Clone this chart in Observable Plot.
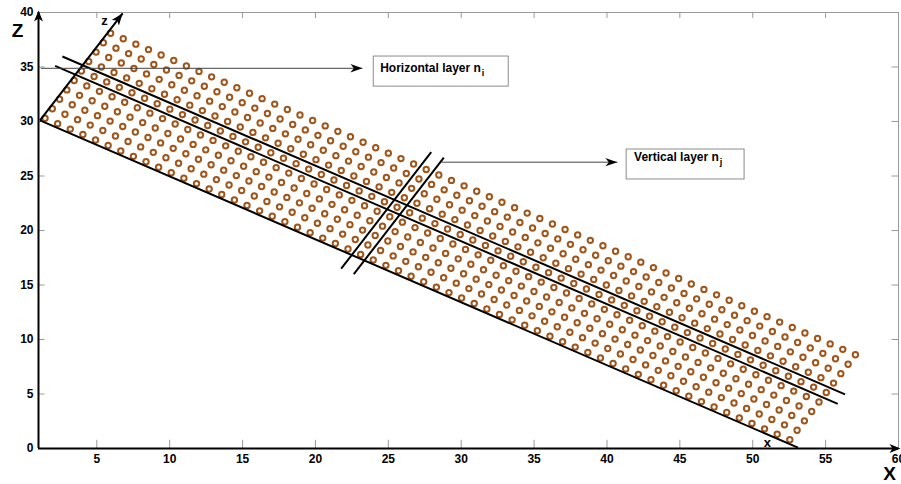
<!DOCTYPE html>
<html>
<head>
<meta charset="utf-8">
<script src="https://cdn.jsdelivr.net/npm/d3@7"></script>
<script src="https://cdn.jsdelivr.net/npm/@observablehq/plot@0.6"></script>
<style>
  html, body { margin: 0; padding: 0; background: #fff; overflow: hidden; }
</style>
</head>
<body>
<div id="chart"></div>
<script>
// ---- axis ticks ----
const xTicks = [5, 10, 15, 20, 25, 30, 35, 40, 45, 50, 55, 60];
const yTicks = [0, 5, 10, 15, 20, 25, 30, 35, 40];

// ---- mesh: vertical layers j (along local x) and horizontal layers i (along local z) ----
const columnsJ = [1, 2, 3, 4, 5, 6, 7, 8, 9, 10, 11, 12, 13, 14, 15, 16, 17, 18, 19, 20,
  21, 22, 23, 24, 25, 26, 27, 28, 29, 30, 31, 32, 33, 34, 35, 36, 37, 38, 39, 40,
  41, 42, 43, 44, 45, 46, 47, 48, 49, 50, 51, 52, 53, 54, 55, 56, 57, 58, 59, 60];
const rowsI = [1, 2, 3, 4, 5, 6, 7, 8, 9, 10];
const meshOrigin = [0.765, 30.12];   // (X, Z) of mesh corner
const meshAngleDeg = 30;             // local x axis dips 30 degrees
const highlightedRowI = 6;           // horizontal layer n_i
const highlightedColumnJ = 26;       // vertical layer n_j
const rowLineSpanU = [-1.3, 60.7];   // extent of the n_i boundary lines (local x)
const columnLineSpanW = [-1.3, 11.05]; // extent of the n_j boundary lines (local z)
const localAxisOrigin = [0.3, 0.15]; // local (u, w)
const localXAxisLength = 60.05;
const localZAxisLength = 11.35;

// ---- annotations (data coordinates) ----
const annotationLabels = ["Horizontal layer n", "Vertical layer n"];
const annotationSubs = ["i", "j"];
const annotationTextXZ = [[24.44, 34.87], [41.86, 26.71]];
const annotationBoxX = [[24.0, 33.26], [41.35, 49.44]];
const annotationBoxZ = [[33.2, 35.96], [24.68, 27.43]];
const annotationArrowFrom = [[1.16, 34.88], [28.6, 26.27]];
const annotationArrowTo = [[23.22, 34.88], [40.71, 26.27]];
const localAxisLabels = ["z", "x"];
const localAxisLabelXZ = [[5.53, 39.22], [51.01, 0.5]];

// ---- geometry helpers ----
const W = 901, H = 484, ML = 38, MR = 3, MT = 12, MB = 36;
const xDomain = [1, 60], yDomain = [0, 40];
const ang = meshAngleDeg * Math.PI / 180;
const toXZ = ([u, w]) => [
  meshOrigin[0] + u * Math.cos(ang) + w * Math.sin(ang),
  meshOrigin[1] - u * Math.sin(ang) + w * Math.cos(ang)
];
const kx = (W - ML - MR) / (xDomain[1] - xDomain[0]);
const ky = (H - MT - MB) / (yDomain[1] - yDomain[0]);
const zArrowRotate = Math.atan2(-Math.cos(ang) * ky, Math.sin(ang) * kx) * 180 / Math.PI;

const nodes = [];
for (const i of rowsI) for (const j of columnsJ) {
  const [x, z] = toXZ([j - 0.5, i - 0.5]);
  nodes.push({x, z});
}
const layerLines = [];
for (const w of [highlightedRowI - 1, highlightedRowI]) {
  const a = toXZ([rowLineSpanU[0], w]), b = toXZ([rowLineSpanU[1], w]);
  layerLines.push({x1: a[0], y1: a[1], x2: b[0], y2: b[1]});
}
for (const u of [highlightedColumnJ - 1, highlightedColumnJ]) {
  const a = toXZ([u, columnLineSpanW[0]]), b = toXZ([u, columnLineSpanW[1]]);
  layerLines.push({x1: a[0], y1: a[1], x2: b[0], y2: b[1]});
}
const o = toXZ(localAxisOrigin);
const xEnd = toXZ([localAxisOrigin[0] + localXAxisLength, localAxisOrigin[1]]);
const zEnd = toXZ([localAxisOrigin[0], localAxisOrigin[1] + localZAxisLength]);
const localAxes = [
  {x1: o[0], y1: o[1], x2: xEnd[0], y2: xEnd[1]},
  {x1: o[0], y1: o[1], x2: zEnd[0], y2: zEnd[1]}
];

const arrowHead = (len, half, notch) => ({
  draw(ctx) {
    ctx.moveTo(0, 0);
    ctx.lineTo(-len, -half);
    ctx.lineTo(-len + notch, 0);
    ctx.lineTo(-len, half);
    ctx.closePath();
  }
});

const annRows = annotationLabels.map((t, k) => ({
  label: t,
  tx: annotationTextXZ[k][0], tz: annotationTextXZ[k][1],
  bx1: annotationBoxX[k][0], bx2: annotationBoxX[k][1],
  bz1: annotationBoxZ[k][0], bz2: annotationBoxZ[k][1],
  ax1: annotationArrowFrom[k][0], az1: annotationArrowFrom[k][1],
  ax2: annotationArrowTo[k][0], az2: annotationArrowTo[k][1]
}));

const innerX = xTicks.filter(t => t < xDomain[1]);
const innerY = yTicks.filter(t => t > yDomain[0] && t < yDomain[1]);

const chart = Plot.plot({
  width: W, height: H,
  marginLeft: ML, marginRight: MR, marginTop: MT, marginBottom: MB,
  x: {domain: xDomain, label: null},
  y: {domain: yDomain, label: null},
  style: {
    fontFamily: "'Liberation Sans', Arial, Helvetica, sans-serif",
    fontSize: "12px", fontWeight: "bold", background: "#fff", color: "#000"
  },
  marks: [
    // box (top / right) and inward ticks
    Plot.ruleY([yDomain[1]], {stroke: "#9a9a9a", strokeWidth: 1}),
    Plot.ruleX([xDomain[1]], {stroke: "#9a9a9a", strokeWidth: 1}),
    Plot.ruleX(innerX, {y1: yDomain[0], y2: 0.75, stroke: "#9a9a9a"}),
    Plot.ruleX(innerX, {y1: yDomain[1], y2: 39.45, stroke: "#9a9a9a"}),
    Plot.ruleY(innerY, {x1: xDomain[0], x2: 1.45, stroke: "#9a9a9a"}),
    Plot.ruleY(innerY, {x1: xDomain[1], x2: 59.55, stroke: "#9a9a9a"}),
    Plot.axisX(xTicks, {tickSize: 0, tickPadding: 6, label: null, fontSize: 12, fontWeight: "bold"}),
    Plot.axisY(yTicks, {tickSize: 0, tickPadding: 5, label: null, fontSize: 12, fontWeight: "bold"}),

    // mesh nodes
    Plot.dot(nodes, {x: "x", y: "z", r: 2.7, stroke: "#a0561a", strokeWidth: 2, fill: "#fff"}),

    // layer boundary lines
    Plot.link(layerLines, {x1: "x1", y1: "y1", x2: "x2", y2: "y2", stroke: "#000", strokeWidth: 2}),
    // local axes
    Plot.link(localAxes, {x1: "x1", y1: "y1", x2: "x2", y2: "y2", stroke: "#000", strokeWidth: 2}),
    Plot.dot([zEnd], {x: d => d[0], y: d => d[1], symbol: arrowHead(12, 4.5, 3), rotate: zArrowRotate, fill: "#000", stroke: "none", r: 5}),
    Plot.text(localAxisLabels, {x: (d, k) => localAxisLabelXZ[k][0], y: (d, k) => localAxisLabelXZ[k][1], fontSize: 13, fontWeight: "bold", textAnchor: "middle"}),

    // main axes with arrows
    Plot.ruleX([xDomain[0]], {y1: yDomain[0], y2: yDomain[1], stroke: "#000", strokeWidth: 2}),
    Plot.ruleY([yDomain[0]], {x1: xDomain[0], x2: xDomain[1], stroke: "#000", strokeWidth: 2}),
    Plot.dot([[xDomain[0], yDomain[1]]], {x: d => d[0], y: d => d[1], dy: -2, symbol: arrowHead(11, 4.5, 3), rotate: -90, fill: "#000", stroke: "none", r: 5}),
    Plot.dot([[xDomain[1], yDomain[0]]], {x: d => d[0], y: d => d[1], dx: 2, symbol: arrowHead(11, 4.5, 3), rotate: 0, fill: "#000", stroke: "none", r: 5}),
    Plot.text(["Z"], {frameAnchor: "top-left", lineAnchor: "middle", dx: -21, dy: 18, fontSize: 19, fontWeight: "bold", textAnchor: "middle"}),
    Plot.text(["X"], {frameAnchor: "bottom-right", lineAnchor: "middle", dx: -9, dy: 25, fontSize: 19, fontWeight: "bold", textAnchor: "middle"}),

    // annotations
    Plot.link(annRows, {x1: "ax1", y1: "az1", x2: "ax2", y2: "az2", stroke: "#444", strokeWidth: 1}),
    Plot.dot(annRows, {x: "ax2", y: "az2", symbol: arrowHead(12, 4.2, 3.5), fill: "#000", stroke: "none", r: 5}),
    Plot.rect(annRows, {x1: "bx1", x2: "bx2", y1: "bz1", y2: "bz2", fill: "#fff", stroke: "#8c8c8c", strokeWidth: 1}),
    Plot.text(annRows, {x: "tx", y: "tz", text: "label", textAnchor: "start", fontSize: 12, fontWeight: "bold"})
  ]
});

// subscripts i / j on the annotation labels
chart.querySelectorAll("text").forEach(t => {
  const k = annotationLabels.indexOf(t.textContent);
  if (k >= 0) {
    const ts = document.createElementNS("http://www.w3.org/2000/svg", "tspan");
    ts.setAttribute("dy", "4");
    ts.setAttribute("dx", "1");
    ts.setAttribute("font-size", "9");
    ts.textContent = annotationSubs[k];
    t.appendChild(ts);
  }
});

document.getElementById("chart").appendChild(chart);
</script>
</body>
</html>
